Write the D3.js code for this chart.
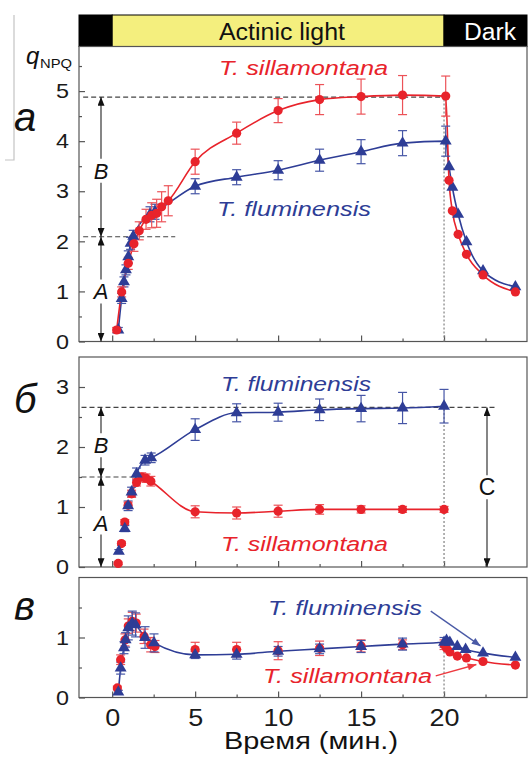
<!DOCTYPE html>
<html>
<head>
<meta charset="utf-8">
<script src="https://cdn.jsdelivr.net/npm/d3@7"></script>
<style>
body{margin:0;background:#fff;}
svg text{font-family:"Liberation Sans",Arial,sans-serif;}
</style>
</head>
<body>
<div id="plot"></div>
<script>
// time axis (min)
var timeTicks = [0,5,10,15,20];
var timeMinor = [2.5,7.5,12.5,17.5,22.5];

// light phases along the top
var phaseStart = [-2,0,20];
var phaseEnd   = [0,20,25];
var phaseLabel = ['','Actinic light','Dark'];

// panel a: qNPQ
var aRedT = [0.27,0.57,0.97,1.31,1.63,2.04,2.38,2.68,2.98,3.38,5,7.5,10,12.5,15,17.5,20.1,20.3,20.5,20.85,21.35,22.35,24.3];
var aRedV = [0.23,0.99,1.56,1.95,2.21,2.44,2.52,2.56,2.69,2.81,3.59,4.16,4.61,4.83,4.89,4.92,4.9,3.22,2.61,2.14,1.74,1.33,0.99];
var aRedE = [0.05,0.1,0.12,0.15,0.18,0.2,0.25,0.28,0.3,0.3,0.25,0.22,0.24,0.3,0.35,0.39,0.4,0,0,0,0,0,0];
var aBlueT = [0.37,0.57,0.71,0.83,0.97,1.11,1.27,2.28,2.58,5,7.5,10,12.5,15,17.5,20.1,20.3,20.5,20.85,21.35,22.35,24.3];
var aBlueV = [0.23,0.86,1.19,1.43,1.69,1.96,2.1,2.54,2.59,3.1,3.28,3.42,3.62,3.79,3.96,4.0,3.49,3.08,2.54,1.99,1.41,1.09];
var aBlueE = [0.05,0.1,0.1,0.1,0.12,0.12,0.12,0.15,0.15,0.15,0.15,0.19,0.22,0.24,0.25,0.3,0,0,0,0,0,0];
var aTicks = [0,1,2,3,4,5];

// panel b
var bBlueT = [0.4,0.76,0.96,1.17,1.47,1.98,2.35,5,7.5,10,12.5,15,17.5,20];
var bBlueV = [0.26,0.64,1.02,1.25,1.55,1.78,1.82,2.29,2.57,2.58,2.62,2.64,2.65,2.68];
var bBlueE = [0.03,0.05,0.08,0.08,0.1,0.08,0.08,0.18,0.15,0.15,0.18,0.22,0.26,0.28];
var bRedT = [0.36,0.56,0.76,0.96,1.17,1.47,1.78,2.04,2.33,5,7.5,10,12.5,15,17.5,20];
var bRedV = [0.06,0.39,0.75,1.03,1.22,1.41,1.5,1.48,1.43,0.92,0.9,0.93,0.96,0.96,0.96,0.96];
var bRedE = [0.02,0.03,0.04,0.05,0.06,0.06,0.07,0.07,0.08,0.1,0.1,0.1,0.08,0.06,0.05,0.05];
var bTicks = [0,1,2,3];

// panel c
var cBlueT = [0.37,0.51,0.71,0.81,0.97,1.21,1.41,1.98,2.52,5,7.5,10,12.5,15,17.5,20,20.15,20.35,20.8,21.3,22.35,24.3];
var cBlueV = [0.09,0.49,0.83,0.96,1.16,1.24,1.21,1.0,0.91,0.71,0.72,0.77,0.81,0.85,0.89,0.92,0.95,0.92,0.85,0.8,0.74,0.67];
var cBlueE = [0.03,0.1,0.1,0.12,0.2,0.2,0.2,0.18,0.15,0.06,0.08,0.08,0.08,0.1,0.1,0.08,0,0,0,0,0,0];
var cRedT = [0.31,0.51,0.77,0.97,1.21,1.45,1.92,2.32,2.58,5,7.5,10,12.5,15,17.5,20,20.15,20.35,20.8,21.35,22.35,24.3];
var cRedV = [0.16,0.63,0.96,1.19,1.27,1.24,1.02,0.88,0.85,0.8,0.8,0.78,0.82,0.86,0.88,0.88,0.82,0.76,0.69,0.66,0.6,0.54];
var cRedE = [0.03,0.08,0.1,0.12,0.15,0.15,0.12,0.12,0.1,0.12,0.12,0.15,0.12,0.1,0.08,0.08,0,0,0,0,0,0];
var cTicks = [0,1];

var red = '#e8232b', redErr = '#ec5258', blue = '#2e3d96', blueErr = '#4656a6';
var axisCol = '#555';

var svg = d3.select('#plot').append('svg').attr('width',529).attr('height',762);

var defs = svg.append('defs');
function addMarker(id, fill, w){
	defs.append('marker').attr('id',id).attr('viewBox','0 0 10 8')
		.attr('refX',10).attr('refY',4).attr('markerWidth',w).attr('markerHeight',7)
		.attr('markerUnits','userSpaceOnUse').attr('orient','auto')
		.append('path').attr('d','M0,0L10,4L0,8Z').attr('fill',fill);
}
addMarker('arr','#111',9);
addMarker('arrBlue','#4a5aa6',10);
addMarker('arrRed','#ee3a40',10);

var x = d3.scaleLinear().domain([-2,25]).range([79,527]);
var ya = d3.scaleLinear().domain([0,5.89]).range([341.5,46.5]);
var yb = d3.scaleLinear().domain([0,3.5]).range([567,357]);
var yc = d3.scaleLinear().domain([0,2]).range([697.5,577.5]);

function zip(t,v,e){
	return t.map(function(d,i){ return {t:d, v:v[i], e:e[i]}; });
}

function halves(max){
	var out = [];
	for (var i = 0.5; i < max; i += 1) out.push(i);
	return out;
}

// top phase bar
phaseStart.forEach(function(s,i){
	svg.append('rect').attr('x',x(s)).attr('y',15)
		.attr('width',x(phaseEnd[i])-x(s)).attr('height',31.5)
		.attr('fill', i==1 ? '#f4ef7e' : '#000').attr('stroke','#000').attr('stroke-width',1);
});
svg.append('text').attr('x',219).attr('y',39.5).attr('font-size',23)
	.attr('textLength',126).attr('lengthAdjust','spacingAndGlyphs').attr('fill','#111').text(phaseLabel[1]);
svg.append('text').attr('x',464).attr('y',39.5).attr('font-size',23)
	.attr('textLength',52).attr('lengthAdjust','spacingAndGlyphs').attr('fill','#fff').text(phaseLabel[2]);

// faint bracket left of panel a
svg.append('path').attr('d','M14,15V160H5').attr('fill','none').attr('stroke','#c4c4c4').attr('stroke-width',1.2);

function drawFrame(y, yTicks, showX){
	var g = svg.append('g');
	var x0 = x.range()[0], x1 = x.range()[1];
	g.append('rect').attr('x',x0).attr('y',y.range()[1])
		.attr('width',x1-x0).attr('height',y.range()[0]-y.range()[1])
		.attr('fill','none').attr('stroke',axisCol).attr('stroke-width',1.2);

	var yMaj = g.append('g').attr('transform','translate('+x0+',0)')
		.call(d3.axisLeft(y).tickValues(yTicks).tickSize(-6).tickPadding(10).tickFormat(d3.format('d')));
	var yMin = g.append('g').attr('transform','translate('+x0+',0)')
		.call(d3.axisLeft(y).tickValues(halves(y.domain()[1])).tickSize(-3).tickFormat(''));
	var xMaj = g.append('g').attr('transform','translate(0,'+y.range()[0]+')')
		.call(d3.axisBottom(x).tickValues(timeTicks).tickSize(-6).tickPadding(11)
			.tickFormat(showX ? d3.format('d') : ''));
	var xMin = g.append('g').attr('transform','translate(0,'+y.range()[0]+')')
		.call(d3.axisBottom(x).tickValues(timeMinor).tickSize(-3).tickFormat(''));

	[yMaj,yMin,xMaj,xMin].forEach(function(a){
		a.select('.domain').remove();
		a.selectAll('line').attr('stroke',axisCol).attr('stroke-width',1.2);
	});
	// the original lettering is a little wider than Arial
	yMaj.selectAll('text').attr('font-size',21).attr('fill','#1a1a1a')
		.attr('font-family','"Liberation Sans",Arial,sans-serif')
		.attr('textLength',13).attr('lengthAdjust','spacingAndGlyphs');
	xMaj.selectAll('text').attr('font-size',24).attr('fill','#1a1a1a')
		.attr('font-family','"Liberation Sans",Arial,sans-serif')
		.attr('textLength',function(){ return this.textContent.length*15; })
		.attr('lengthAdjust','spacingAndGlyphs');
	return g;
}

function drawLine(y, data, color){
	svg.append('path').datum(data)
		.attr('d', d3.line().x(function(d){return x(d.t);}).y(function(d){return y(d.v);}).curve(d3.curveMonotoneX))
		.attr('fill','none').attr('stroke',color).attr('stroke-width',1.6);
}

function drawErr(y, data, color){
	var g = svg.append('g').attr('stroke',color).attr('stroke-width',1.2);
	data.filter(function(d){return d.e > 0;}).forEach(function(d){
		var cx = x(d.t), top = y(d.v+d.e), bot = y(d.v-d.e);
		g.append('line').attr('x1',cx).attr('x2',cx).attr('y1',top).attr('y2',bot);
		g.append('line').attr('x1',cx-4.5).attr('x2',cx+4.5).attr('y1',top).attr('y2',top);
		g.append('line').attr('x1',cx-4.5).attr('x2',cx+4.5).attr('y1',bot).attr('y2',bot);
	});
}

function drawDots(y, data){
	svg.append('g').selectAll('circle').data(data).enter().append('circle')
		.attr('cx',function(d){return x(d.t);}).attr('cy',function(d){return y(d.v);})
		.attr('r',4.6).attr('fill',red);
}

function drawTris(y, data){
	var sym = d3.symbol().type(d3.symbolTriangle).size(62);
	svg.append('g').selectAll('path').data(data).enter().append('path')
		.attr('d',sym).attr('fill',blue)
		.attr('transform',function(d){return 'translate('+x(d.t)+','+y(d.v)+')';});
}

function hDash(y, v, t0, t1){
	svg.append('line').attr('x1',x(t0)).attr('x2',x(t1)).attr('y1',y(v)).attr('y2',y(v))
		.attr('stroke','#444').attr('stroke-width',1.1).attr('stroke-dasharray','5,3');
}
function vDot(y, v){
	svg.append('line').attr('x1',x(20)).attr('x2',x(20)).attr('y1',y(0)).attr('y2',y(v))
		.attr('stroke','#8a8a8a').attr('stroke-width',1.3).attr('stroke-dasharray','2,2');
}
// double arrow with a gap for its label
function dArrow(y, px, vTop, vBot, vLab, label, italic, size){
	var ly = y(vLab);
	svg.append('line').attr('x1',px).attr('x2',px).attr('y1',ly-12).attr('y2',y(vTop))
		.attr('stroke','#222').attr('stroke-width',1.1).attr('marker-end','url(#arr)');
	svg.append('line').attr('x1',px).attr('x2',px).attr('y1',ly+12).attr('y2',y(vBot))
		.attr('stroke','#222').attr('stroke-width',1.1).attr('marker-end','url(#arr)');
	svg.append('text').attr('x',px).attr('y',ly+size*0.36).attr('text-anchor','middle')
		.attr('font-size',size).attr('font-style',italic ? 'italic' : 'normal').attr('fill','#111').text(label);
}
function label(txt, x0, base, w, color){
	svg.append('text').attr('x',x0).attr('y',base).attr('font-size',20).attr('font-style','italic')
		.attr('textLength',w).attr('lengthAdjust','spacingAndGlyphs').attr('fill',color).text(txt);
}
function panelLetter(txt, base){
	svg.append('text').attr('x',14).attr('y',base).attr('font-size',40).attr('font-style','italic')
		.attr('font-family','"Liberation Serif","Times New Roman",serif').attr('fill','#111').text(txt);
}

// ---------- panel a ----------
drawFrame(ya, aTicks, false);
vDot(ya, 4.88);
hDash(ya, 4.88, -1.75, 20);
hDash(ya, 2.09, -1.75, 3.8);
dArrow(ya, 101, 4.88, 2.09, 3.41, 'B', true, 22);
dArrow(ya, 101, 2.09, 0, 1.0, 'A', true, 22);
var aRed = zip(aRedT,aRedV,aRedE), aBlue = zip(aBlueT,aBlueV,aBlueE);
drawLine(ya, aBlue, blue);
drawLine(ya, aRed, red);
drawErr(ya, aBlue, blueErr);
drawErr(ya, aRed, redErr);
drawTris(ya, aBlue);
drawDots(ya, aRed);
label('T. sillamontana', 219, 75, 169, red);
label('T. fluminensis', 217, 216, 154, blue);
panelLetter('а', 131);
svg.append('text').attr('x',26).attr('y',64).attr('font-size',24).attr('font-style','italic').attr('fill','#111').text('q');
svg.append('text').attr('x',40).attr('y',68).attr('font-size',13).attr('textLength',32)
	.attr('lengthAdjust','spacingAndGlyphs').attr('fill','#111').text('NPQ');

// ---------- panel b ----------
drawFrame(yb, bTicks, false);
vDot(yb, 2.68);
hDash(yb, 2.66, -1.85, 23.2);
hDash(yb, 1.5, -1.85, 2.4);
dArrow(yb, 101, 2.66, 1.5, 2.03, 'B', true, 22);
dArrow(yb, 101, 1.5, 0, 0.74, 'A', true, 22);
dArrow(yb, 487, 2.66, 0, 1.33, 'C', false, 23);
var bRed = zip(bRedT,bRedV,bRedE), bBlue = zip(bBlueT,bBlueV,bBlueE);
drawLine(yb, bBlue.filter(function(d){return d.t > 1.1;}), blue);
drawLine(yb, bRed.filter(function(d){return d.t > 1.1;}), red);
drawErr(yb, bBlue, blueErr);
drawErr(yb, bRed, redErr);
drawDots(yb, bRed);
drawTris(yb, bBlue);
label('T. fluminensis', 221, 391, 150, blue);
label('T. sillamontana', 221, 551, 167, red);
panelLetter('б', 413);

// ---------- panel c ----------
drawFrame(yc, cTicks, true);
vDot(yc, 0.92);
var cRed = zip(cRedT,cRedV,cRedE), cBlue = zip(cBlueT,cBlueV,cBlueE);
drawLine(yc, cRed.filter(function(d){return d.t >= 20;}), red);
drawLine(yc, cBlue, blue);
drawErr(yc, cRed, redErr);
drawErr(yc, cBlue, blueErr);
drawDots(yc, cRed);
drawTris(yc, cBlue);
label('T. fluminensis', 268, 615, 154, blue);
label('T. sillamontana', 263, 683, 169, red);
svg.append('line').attr('x1',x(19.2)).attr('y1',yc(1.44)).attr('x2',x(22.2)).attr('y2',yc(0.86))
	.attr('stroke','#4a5aa6').attr('stroke-width',1.3).attr('marker-end','url(#arrBlue)');
svg.append('line').attr('x1',x(19.5)).attr('y1',yc(0.36)).attr('x2',x(21.95)).attr('y2',yc(0.55))
	.attr('stroke','#ee3a40').attr('stroke-width',1.3).attr('marker-end','url(#arrRed)');
panelLetter('в', 620);

svg.append('text').attr('x',224).attr('y',749).attr('font-size',23)
	.attr('textLength',174).attr('lengthAdjust','spacingAndGlyphs').attr('fill','#111').text('Время (мин.)');
</script>
</body>
</html>
